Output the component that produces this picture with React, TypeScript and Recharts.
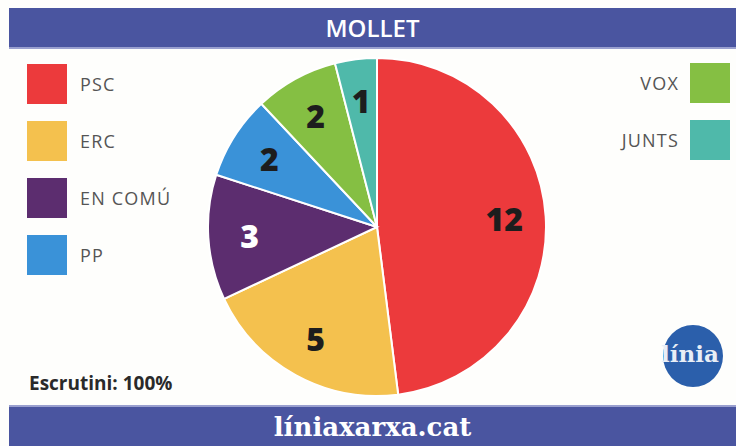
import React from 'react';
import { PieChart, Pie, Cell } from 'recharts';

const parties = ['PSC', 'ERC', 'EN COMÚ', 'PP', 'VOX', 'JUNTS'];
const seats = [12, 5, 3, 2, 2, 1];
const colors = ['#ec3a3c', '#f4c14e', '#5c2d6f', '#3a92d8', '#85bf43', '#4fb9aa'];
const labelColors = ['#1d1d1d', '#1d1d1d', '#ffffff', '#1d1d1d', '#1d1d1d', '#1d1d1d'];
const leftLegend = ['PSC', 'ERC', 'EN COMÚ', 'PP'];
const rightLegend = ['VOX', 'JUNTS'];
const title = 'MOLLET';
const footer = 'líniaxarxa.cat';
const note = 'Escrutini: 100%';

const data = parties.map((name, i) => ({ name, value: seats[i] }));

const RADIAN = Math.PI / 180;

const renderLabel = (props: any) => {
  const { cx, cy, midAngle, outerRadius, index, value } = props;
  const r = outerRadius * 0.755;
  const x = cx + r * Math.cos(-midAngle * RADIAN);
  const y = cy + r * Math.sin(-midAngle * RADIAN);
  return (
    <text
      x={x}
      y={y}
      fill={labelColors[index]}
      textAnchor="middle"
      dominantBaseline="central"
      style={{ fontFamily: '"Open Sans", sans-serif', fontWeight: 800, fontSize: 32 }}
    >
      {value}
    </text>
  );
};

const colorOf = (name: string) => colors[parties.indexOf(name)];

export default function App() {
  const legendText: React.CSSProperties = {
    position: 'absolute',
    fontFamily: '"Open Sans", sans-serif',
    fontSize: 18,
    color: '#555555',
    letterSpacing: 1.2,
    lineHeight: '40px',
    whiteSpace: 'nowrap',
  };
  return (
    <div
      style={{
        position: 'absolute',
        left: 0,
        top: 0,
        width: 736,
        height: 446,
        background: '#fefefc',
        overflow: 'hidden',
      }}
    >
      <div
        style={{
          position: 'absolute',
          left: 9,
          top: 8,
          width: 727,
          height: 39,
          background: '#4a55a0',
          borderBottom: '2px solid #9aa0cf',
          color: '#fff',
          textAlign: 'center',
          fontFamily: '"Open Sans", sans-serif',
          fontWeight: 600,
          fontSize: 24,
          lineHeight: '39px',
        }}
      >
        {title}
      </div>
      <div
        style={{
          position: 'absolute',
          left: 9,
          top: 405,
          width: 727,
          height: 41,
          background: '#4a55a0',
          borderTop: '2px solid #9aa0cf',
          color: '#fff',
          textAlign: 'center',
          fontFamily: '"DejaVu Serif", serif',
          fontWeight: 700,
          fontSize: 26,
          lineHeight: '40px',
        }}
      >
        {footer}
      </div>
      {leftLegend.map((name, i) => (
        <React.Fragment key={name}>
          <div
            style={{
              position: 'absolute',
              left: 27,
              top: 64 + i * 57,
              width: 40,
              height: 40,
              background: colorOf(name),
            }}
          />
          <div style={{ ...legendText, left: 80, top: 64 + i * 57 }}>{name}</div>
        </React.Fragment>
      ))}
      {rightLegend.map((name, i) => (
        <React.Fragment key={name}>
          <div
            style={{
              position: 'absolute',
              left: 690,
              top: 63 + i * 57,
              width: 40,
              height: 40,
              background: colorOf(name),
            }}
          />
          <div style={{ ...legendText, right: 736 - 679, top: 63 + i * 57, textAlign: 'right' }}>{name}</div>
        </React.Fragment>
      ))}
      <div
        style={{
          position: 'absolute',
          left: 29,
          top: 370,
          fontFamily: '"Open Sans", sans-serif',
          fontWeight: 700,
          fontSize: 19,
          color: '#2a2a2a',
          whiteSpace: 'nowrap',
        }}
      >
        {note}
      </div>
      <div
        style={{
          position: 'absolute',
          left: 663,
          top: 325,
          width: 60,
          height: 62,
          borderRadius: '50%',
          background: '#2b5fab',
        }}
      />
      <div
        style={{
          position: 'absolute',
          left: 661,
          top: 339,
          width: 80,
          fontFamily: '"DejaVu Serif", serif',
          fontWeight: 700,
          fontSize: 23,
          color: '#e8eef6',
          lineHeight: '30px',
          whiteSpace: 'nowrap',
        }}
      >
        línia
      </div>
      <div style={{ position: 'absolute', left: 0, top: 0 }}>
        <PieChart width={736} height={446} margin={{ top: 0, right: 0, bottom: 0, left: 0 }}>
          <Pie
            data={data}
            dataKey="value"
            nameKey="name"
            cx={377}
            cy={227}
            outerRadius={169}
            startAngle={90}
            endAngle={-270}
            stroke="#ffffff"
            strokeWidth={2}
            label={renderLabel}
            labelLine={false}
            isAnimationActive={false}
          >
            {data.map((d, i) => (
              <Cell key={d.name} fill={colors[i]} />
            ))}
          </Pie>
        </PieChart>
      </div>
    </div>
  );
}
